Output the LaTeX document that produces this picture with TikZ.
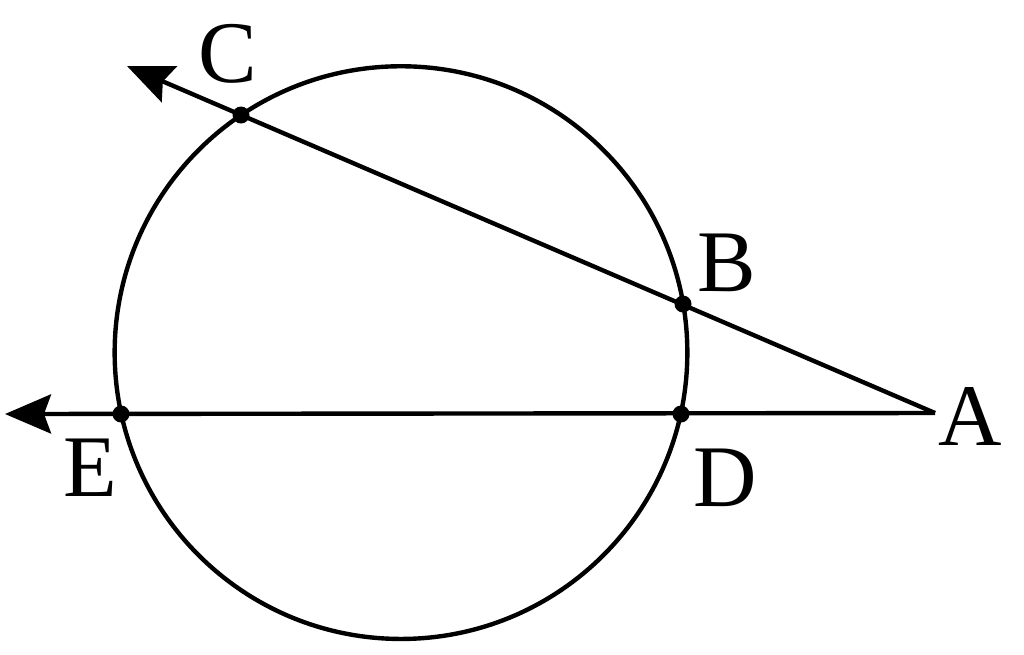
\documentclass[tikz,border=0pt]{standalone}
\usepackage{fontspec}
\setmainfont{Liberation Serif}
\usetikzlibrary{arrows.meta}
\begin{document}
\begin{tikzpicture}[x=0.02cm,y=-0.02cm,
  ln/.style={line width=2.5pt},
  arr/.style={ln,-{Stealth[length=0.92cm,width=0.78cm,inset=0.14cm]}},
  dot/.style={circle,fill=black,inner sep=0pt,minimum size=0.34cm},
  lab/.style={inner sep=0pt,font=\fontsize{50}{60}\selectfont}]
\useasboundingbox (0,0) rectangle (1024,654);
\coordinate (O) at (401,352.6);
\draw[ln] (O) circle[radius=5.728cm];
\coordinate (A) at (935,413);
\coordinate (Ct) at (127,66);
\coordinate (Et) at (5,414);
\draw[arr] (A) -- (Ct);
\draw[arr] (A) -- (Et);
\node[dot] (C) at (241,115) {};
\node[dot] (B) at (683,304) {};
\node[dot] (E) at (121,414) {};
\node[dot] (D) at (681,414) {};
\node[lab] (lC) at (228,54) {C};
\node[lab] (lB) at (727,263) {B};
\node[lab] (lE) at (90,468) {E};
\node[lab] (lD) at (725,478) {D};
\node[lab] (lA) at (970,416) {A};
\end{tikzpicture}
\end{document}
